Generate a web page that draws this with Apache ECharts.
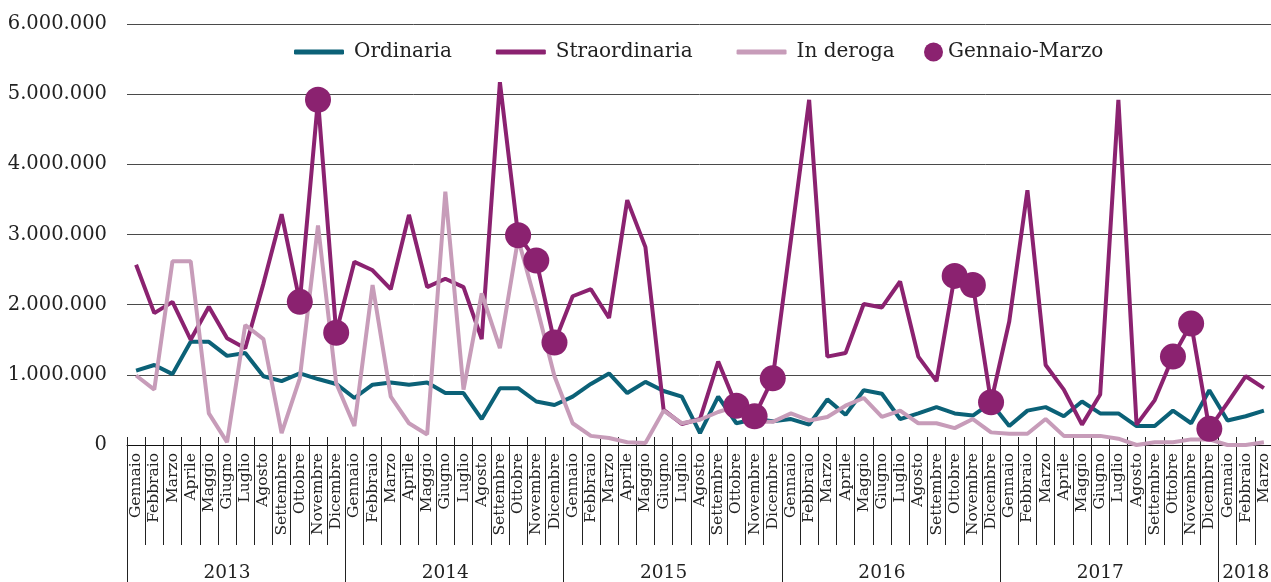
<!DOCTYPE html>
<html>
<head>
<meta charset="utf-8">
<script src="https://cdn.jsdelivr.net/npm/echarts@6/dist/echarts.min.js"></script>
<style>
html,body{margin:0;padding:0;background:#fff;}
#chart{width:1271px;height:582px;}
</style>
</head>
<body>
<div id="chart"></div>
<script>
const monthNames = ['Gennaio','Febbraio','Marzo','Aprile','Maggio','Giugno','Luglio','Agosto','Settembre','Ottobre','Novembre','Dicembre'];
const years = ['2013','2014','2015','2016','2017','2018'];
const monthsInLastYear = 3;
const yTicks = [0, 1000000, 2000000, 3000000, 4000000, 5000000, 6000000];

const ordinaria = [
  1060000,1140000,1010000,1470000,1470000,1270000,1310000,980000,910000,1020000,940000,870000,
  670000,860000,890000,860000,890000,740000,740000,370000,810000,810000,620000,570000,
  690000,870000,1020000,740000,900000,770000,690000,170000,690000,310000,370000,340000,
  370000,290000,650000,430000,780000,730000,370000,450000,540000,450000,420000,600000,
  270000,490000,540000,410000,620000,450000,450000,270000,270000,490000,310000,780000,
  350000,410000,490000
];
const straordinaria = [
  2570000,1880000,2040000,1500000,1970000,1520000,1380000,2300000,3290000,2040000,4920000,1600000,
  2610000,2490000,2220000,3280000,2250000,2370000,2250000,1510000,5170000,2990000,2630000,1460000,
  2120000,2220000,1810000,3490000,2820000,500000,300000,370000,1190000,560000,410000,950000,
  2930000,4920000,1260000,1310000,2010000,1960000,2330000,1260000,910000,2410000,2280000,610000,
  1760000,3630000,1140000,790000,290000,720000,4920000,290000,640000,1260000,1730000,230000,
  600000,980000,810000
];
const inDeroga = [
  990000,790000,2620000,2620000,450000,40000,1710000,1510000,170000,950000,3130000,880000,
  270000,2280000,690000,310000,150000,3610000,790000,2160000,1380000,2940000,2000000,980000,
  310000,130000,100000,40000,30000,490000,310000,360000,470000,550000,330000,330000,
  450000,350000,400000,560000,670000,400000,490000,310000,310000,240000,370000,180000,
  160000,160000,370000,130000,130000,130000,90000,0,40000,40000,80000,80000,
  0,0,40000
];
const gennaioMarzo = [
  null,null,null,null,null,null,null,null,null,2040000,4920000,1600000,
  null,null,null,null,null,null,null,null,null,2990000,2630000,1460000,
  null,null,null,null,null,null,null,null,null,560000,410000,950000,
  null,null,null,null,null,null,null,null,null,2410000,2280000,610000,
  null,null,null,null,null,null,null,null,null,1260000,1730000,230000,
  null,null,null
];

// categories built from the month / year lists
const categories = [];
const yearOfCat = [];
years.forEach((y, yi) => {
  const n = (yi === years.length - 1) ? monthsInLastYear : 12;
  for (let m = 0; m < n; m++) { categories.push(monthNames[m]); yearOfCat.push(y); }
});
const yearStart = [];
const yearLabelIdx = [];
years.forEach((y) => {
  const first = yearOfCat.indexOf(y);
  const last = yearOfCat.lastIndexOf(y);
  yearStart.push(first);
  yearLabelIdx.push(first + Math.min(5, Math.floor((last - first) / 2)));
});

const FONT = 'DejaVu Serif';
const TXT = '#222';
function fmt(v) { return String(v).replace(/\B(?=(\d{3})+(?!\d))/g, '.'); }

const chart = echarts.init(document.getElementById('chart'), null, {renderer: 'canvas'});
chart.setOption({
  animation: false,
  backgroundColor: '#fff',
  textStyle: {fontFamily: FONT},
  legend: [
    {
      left: 289, top: 37, itemWidth: 50, itemHeight: 5, icon: 'roundRect', itemGap: 44,
      data: ['Ordinaria', 'Straordinaria', 'In deroga'],
      textStyle: {fontFamily: FONT, fontSize: 20, color: TXT, padding: [0, 0, 0, 5]}
    },
    {
      left: 919, top: 37, itemWidth: 19, itemHeight: 19, icon: 'circle',
      data: ['Gennaio-Marzo'],
      textStyle: {fontFamily: FONT, fontSize: 20, color: TXT, padding: [0, 0, 0, 0]}
    }
  ],
  grid: {left: 127, right: -2, top: 24, bottom: 137, containLabel: false, outerBoundsMode: 'none'},
  xAxis: [
    {
      type: 'category', data: categories, boundaryGap: true, position: 'bottom',
      axisLine: {show: true, lineStyle: {color: '#111', width: 1}},
      axisTick: {show: true, interval: 0, length: 100, lineStyle: {color: '#222', width: 1}},
      axisLabel: {interval: 0, rotate: 90, margin: 8, fontSize: 15.5, color: TXT, fontFamily: FONT},
      splitLine: {show: false}
    },
    {
      type: 'category', data: categories, boundaryGap: true, position: 'bottom',
      axisLine: {show: false},
      axisTick: {show: true, interval: 0, inside: true, length: 8, lineStyle: {color: '#222', width: 1}},
      axisLabel: {show: false},
      splitLine: {show: false}
    },
    {
      type: 'category', data: yearOfCat, boundaryGap: true, position: 'bottom',
      axisLine: {show: false},
      axisTick: {show: true, interval: (i) => yearStart.indexOf(i) >= 0, length: 137, lineStyle: {color: '#222', width: 1}},
      axisLabel: {show: true, interval: (i) => yearLabelIdx.indexOf(i) >= 0, margin: 119, fontSize: 18.5, color: TXT, fontFamily: FONT, hideOverlap: false},
      splitLine: {show: false}
    }
  ],
  yAxis: {
    type: 'value', min: yTicks[0], max: yTicks[yTicks.length - 1], interval: yTicks[1] - yTicks[0],
    axisLine: {show: false}, axisTick: {show: false},
    splitLine: {show: true, lineStyle: {color: '#4a4a4a', width: 1}},
    axisLabel: {margin: 20, fontSize: 19.5, color: TXT, fontFamily: FONT, formatter: fmt}
  },
  series: [
    {name: 'Ordinaria', type: 'line', xAxisIndex: 0, data: ordinaria, symbol: 'none',
     lineStyle: {width: 4, color: '#0B6177'}, itemStyle: {color: '#0B6177'}, z: 2},
    {name: 'Straordinaria', type: 'line', xAxisIndex: 0, data: straordinaria, symbol: 'none',
     lineStyle: {width: 4, color: '#8B2270'}, itemStyle: {color: '#8B2270'}, z: 2},
    {name: 'In deroga', type: 'line', xAxisIndex: 0, data: inDeroga, symbol: 'none',
     lineStyle: {width: 4, color: '#C79CB9'}, itemStyle: {color: '#C79CB9'}, z: 2},
    {name: 'Gennaio-Marzo', type: 'scatter', xAxisIndex: 0, data: gennaioMarzo, symbol: 'circle',
     symbolSize: 26, itemStyle: {color: '#8B2270', opacity: 1}, z: 5}
  ]
});
</script>
</body>
</html>
